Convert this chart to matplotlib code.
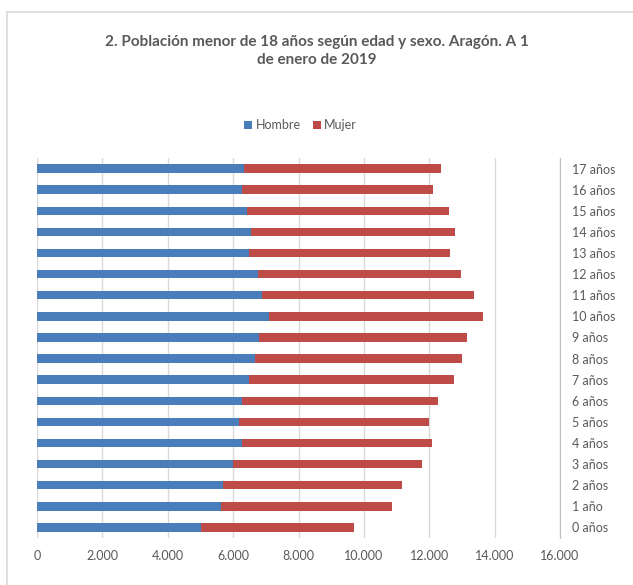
import matplotlib.pyplot as plt
from matplotlib.patches import Rectangle

# edades, de 0 a 17
edades = ['0 años', '1 año', '2 años', '3 años', '4 años', '5 años', '6 años', '7 años', '8 años',
          '9 años', '10 años', '11 años', '12 años', '13 años', '14 años', '15 años', '16 años', '17 años']
hombre = [5025, 5625, 5700, 5985, 6260, 6190, 6260, 6500, 6680,
          6790, 7100, 6870, 6750, 6500, 6545, 6430, 6260, 6330]
mujer = [4675, 5240, 5480, 5795, 5810, 5790, 6000, 6250, 6320,
         6360, 6540, 6485, 6210, 6130, 6245, 6160, 5850, 6015]
ticks_x = [0, 2000, 4000, 6000, 8000, 10000, 12000, 14000, 16000]

plt.rcParams['font.family'] = ['Lato', 'DejaVu Sans']
gris = '#595959'

fig = plt.figure(figsize=(6.33, 5.85), dpi=100)
# marco del grafico
fig.patches.append(Rectangle((7 / 633, -0.01), 1.0, 1 - 12 / 585 + 0.01, transform=fig.transFigure,
                             fill=False, edgecolor='#d9d9d9', linewidth=1.2))

ax = fig.add_axes([37 / 633, 1 - 538 / 585, (560 - 37) / 633, (538 - 158) / 585])
pos = list(range(len(edades)))
ax.barh(pos, hombre, height=0.4, color='#4a7ebb', label='Hombre', zorder=3)
ax.barh(pos, mujer, left=hombre, height=0.4, color='#be4b48', label='Mujer', zorder=3)

ax.set_xlim(0, 16000)
ax.set_ylim(-0.5, len(edades) - 0.5)
ax.set_xticks(ticks_x)
ax.set_xticklabels([f'{t:,}'.replace(',', '.') for t in ticks_x], color=gris, fontsize=9)
ax.set_yticks(pos)
ax.set_yticklabels(edades, color=gris, fontsize=9)
ax.yaxis.tick_right()
ax.tick_params(axis='both', length=0)
ax.tick_params(axis='y', pad=9)
ax.tick_params(axis='x', pad=9)
ax.grid(axis='x', color='#d9d9d9', linewidth=1, zorder=0)
for s in ['top', 'bottom', 'left']:
    ax.spines[s].set_visible(False)
ax.spines['right'].set_color('#bfbfbf')

fig.text(0.5, 1 - 51 / 585, '2. Población menor de 18 años según edad y sexo. Aragón. A 1\nde enero de 2019',
         ha='center', va='center', fontsize=11, fontweight='bold', color=gris, linespacing=1.4)
fig.legend(loc='center', bbox_to_anchor=(0.475, 1 - 125 / 585), ncol=2, frameon=False,
           fontsize=9, handlelength=0.6, handleheight=0.6, handletextpad=0.3, columnspacing=1.0,
           labelcolor=gris)

fig.savefig('out.png', dpi=100)
